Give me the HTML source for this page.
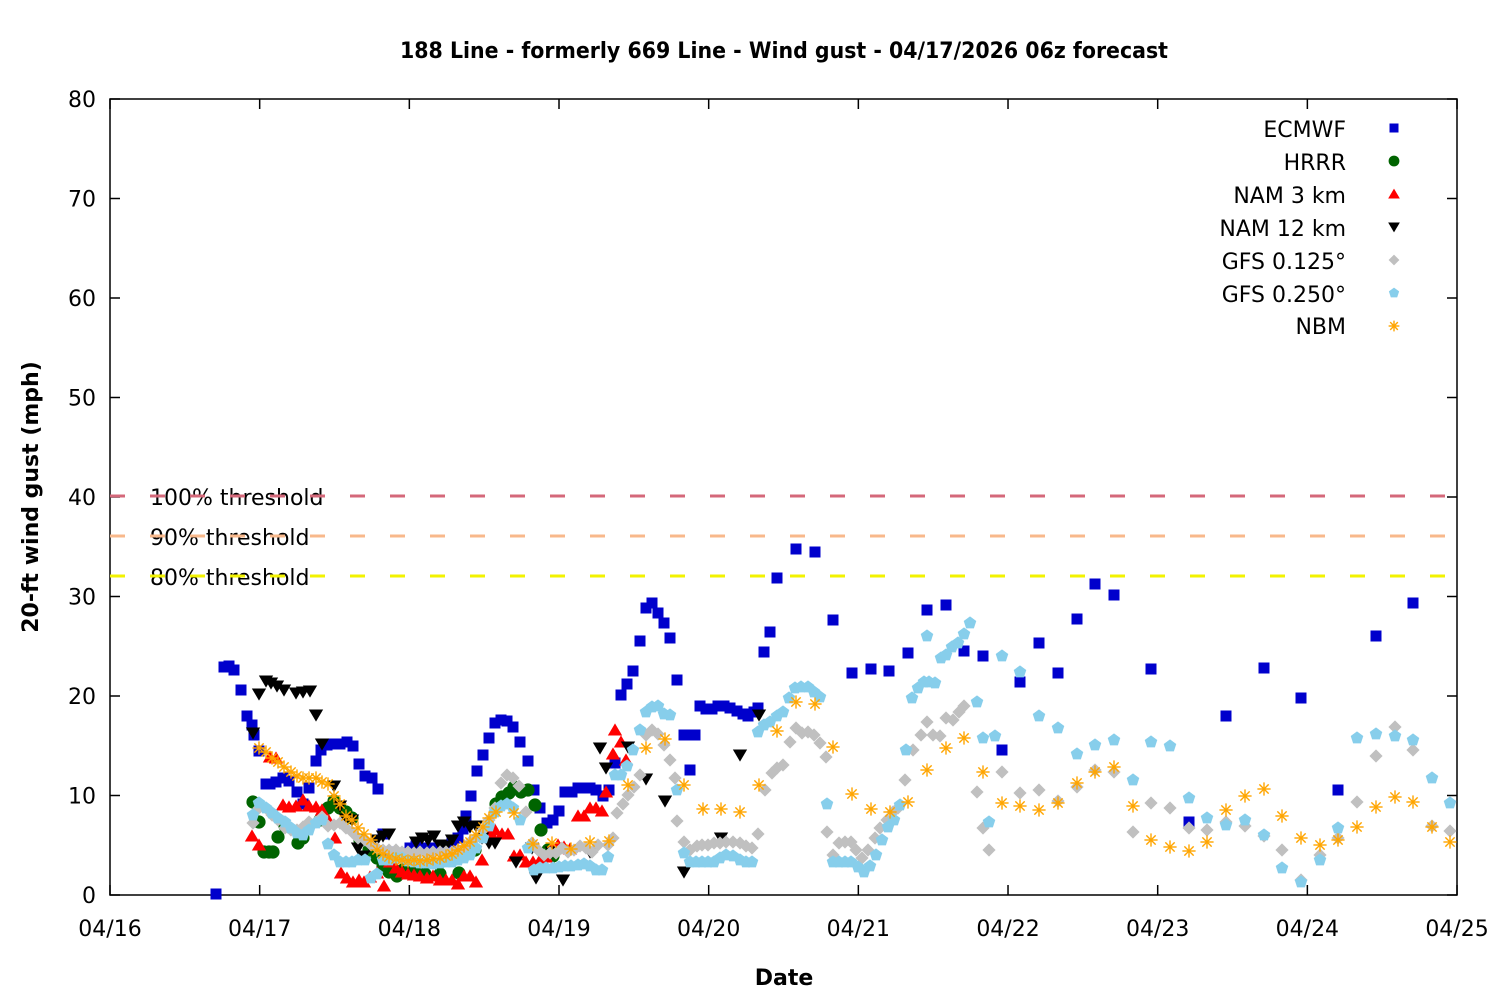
<!DOCTYPE html>
<html><head><meta charset="utf-8"><style>
body{margin:0;background:#fff}
svg text{font-family:"DejaVu Sans","Liberation Sans",sans-serif;fill:#000}
</style></head><body>
<svg id="s" width="1500" height="1000" xmlns="http://www.w3.org/2000/svg">
<rect width="1500" height="1000" fill="#fff"/>
<text x="784" y="58" text-anchor="middle" font-size="22" font-weight="bold" textLength="768" lengthAdjust="spacingAndGlyphs">188 Line - formerly 669 Line - Wind gust - 04/17/2026 06z forecast</text>
<text x="784" y="985" text-anchor="middle" font-size="22" font-weight="bold">Date</text>
<text transform="translate(38,497) rotate(-90)" text-anchor="middle" font-size="22" font-weight="bold">20-ft wind gust (mph)</text>
<g id="ax"></g>
<g font-size="22">
<text x="150" y="505">100% threshold</text>
<text x="150" y="545">90% threshold</text>
<text x="150" y="585">80% threshold</text>
</g>
<g stroke-width="3" stroke-dasharray="15,25">
<line x1="110" x2="1457" y1="496" y2="496" stroke="#d4687a"/>
<line x1="110" x2="1457" y1="536" y2="536" stroke="#f8b88b"/>
<line x1="110" x2="1457" y1="576" y2="576" stroke="#f2f200"/>
</g>
<g font-size="22" text-anchor="end">
<text x="1346" y="137">ECMWF</text>
<text x="1346" y="170">HRRR</text>
<text x="1346" y="203">NAM 3 km</text>
<text x="1346" y="236">NAM 12 km</text>
<text x="1346" y="269">GFS 0.125°</text>
<text x="1346" y="302">GFS 0.250°</text>
<text x="1346" y="334">NBM</text>
</g>
<g id="pts"></g>
</svg>
<script>
const NS="http://www.w3.org/2000/svg";
const ax=document.getElementById('ax'),pts=document.getElementById('pts');
function el(p,t,a,txt){const e=document.createElementNS(NS,t);for(const k in a)e.setAttribute(k,a[k]);if(txt!==undefined)e.textContent=txt;p.appendChild(e);return e;}
el(ax,'rect',{x:110,y:99,width:1347,height:796,fill:'none',stroke:'#000','stroke-width':1.5});
for(let i=0;i<=8;i++){const y=895-i*99.5;el(ax,'line',{x1:110,x2:120,y1:y,y2:y,stroke:'#000','stroke-width':1.5});el(ax,'line',{x1:1447,x2:1457,y1:y,y2:y,stroke:'#000','stroke-width':1.5});
el(ax,'text',{x:96,y:y+8,'text-anchor':'end','font-size':22},String(i*10));}
const d=['04/16','04/17','04/18','04/19','04/20','04/21','04/22','04/23','04/24','04/25'];
for(let i=0;i<=9;i++){const x=110+i*149.67;el(ax,'line',{x1:x,x2:x,y1:895,y2:885,stroke:'#000','stroke-width':1.5});el(ax,'line',{x1:x,x2:x,y1:99,y2:109,stroke:'#000','stroke-width':1.5});
el(ax,'text',{x:x,y:936,'text-anchor':'middle','font-size':22},d[i]);}
function P(s){const a=s.split(/[\s;]+/).filter(Boolean).map(Number);const r=[];for(let i=0;i<a.length;i+=2)r.push([a[i],a[i+1]]);return r;}
function mk(g,type,x,y,c,s){s=s||1;
 if(type=='sq')el(g,'rect',{x:x-5*s,y:y-5*s,width:10*s,height:10*s,fill:c});
 else if(type=='ci')el(g,'circle',{cx:x,cy:y,r:6*s,fill:c});
 else if(type=='tu')el(g,'polygon',{points:`${x},${y-6*s} ${x+6.5*s},${y+5*s} ${x-6.5*s},${y+5*s}`,fill:c});
 else if(type=='td')el(g,'polygon',{points:`${x},${y+6*s} ${x+6.5*s},${y-5*s} ${x-6.5*s},${y-5*s}`,fill:c});
 else if(type=='di')el(g,'polygon',{points:`${x},${y-6*s} ${x+6*s},${y} ${x},${y+6*s} ${x-6*s},${y}`,fill:c});
 else if(type=='pe'){let p=[];for(let k=0;k<5;k++){const a=-Math.PI/2+k*2*Math.PI/5;p.push((x+6*s*Math.cos(a))+','+(y+6*s*Math.sin(a)));}el(g,'polygon',{points:p.join(' '),fill:c});}
 else if(type=='as'){const r=6*s;for(let k=0;k<4;k++){const a=k*Math.PI/4;el(g,'line',{x1:x-r*Math.cos(a),y1:y-r*Math.sin(a),x2:x+r*Math.cos(a),y2:y+r*Math.sin(a),stroke:c,'stroke-width':1.4});}}
}
const S={
ec:['sq','#0000cc',P(`216 894 224 667 229 666 234 670 241 690 247 716 252 725 254 735 259 751 266 784 270 784 276 782 283 778 289 781 297 792 303 804 309 788 316 761 321 750 327 745 334 744 340 744 347 742 353 746 359 764 365 776 372 778 378 789 383 834 390 852 410 848 416 846 422 848 428 850 434 848 440 846 447 845 452 842 458 838 463 829 466 816 471 796 477 771 483 755 489 738 495 723 501 720 507 721 513 727 520 742 528 761 534 790 540 808 547 823 553 820 559 811 565 792 572 792 578 788 584 788 590 788 596 790 603 796 609 790 615 763 621 695 627 684 633 671 640 641 646 608 652 603 658 613 664 623 670 638 677 680 684 735 695 735 690 770 700 706 706 709 712 709 718 706 724 706 730 708 737 711 743 714 748 716 754 712 758 708 764 652 770 632 777 578 796 549 815 552 833 620 852 673 871 669 889 671 908 653 927 610 946 605 964 651 983 656 1002 750 1020 682 1039 643 1058 673 1077 619 1095 584 1114 595 1151 669 1189 822 1226 716 1264 668 1301 698 1338 790 1376 636 1413 603`)],
hr:['ci','#006400',P(`253 802 259 822 264 852 269 852 273 852 278 837 285 826 298 843 303 838 308 826 320 820 328 808 334 801 340 808 346 812 352 818 360 840 369 850 377 858 383 866 389 872 397 876 403 870 410 872 416 873 425 874 440 874 459 873 475 850 489 830 496 804 502 797 509 793 514 787 521 792 528 790 535 805 541 830 548 850 553 856`)],
n3:['tu','#ff0000',P(`252 836 259 845 270 757 276 758 283 805 289 807 296 806 303 800 309 806 316 807 322 810 329 821 335 838 341 873 347 878 353 882 359 880 364 882 370 877 377 873 384 886 390 862 396 868 402 872 408 874 414 875 420 876 427 878 433 876 440 880 446 880 452 880 458 884 464 876 470 876 476 882 482 860 490 832 495 830 502 834 508 834 514 856 520 855 526 862 533 862 540 860 546 857 552 848 558 845 564 847 570 849 578 816 584 816 590 808 596 808 602 811 606 792 613 754 615 730 621 742 626 760`)],
n12:['td','#000000',P(`253 733 259 694 266 681 271 683 277 686 284 690 296 693 303 692 310 691 316 715 322 744 334 786 340 806 346 819 352 820 358 848 363 856 370 846 377 840 383 836 389 834 416 842 422 838 428 840 434 836 440 845 446 846 452 840 458 826 464 822 470 827 476 826 482 838 489 843 495 843 516 862 532 848 536 878 552 852 563 880 590 852 600 748 606 768 628 747 646 779 665 801 684 872 721 838 740 755 759 715`)],
g1:['di','#c0c0c0',P(`253 823 259 808 266 808 272 815 278 820 285 828 291 830 297 830 303 827 309 822 316 822 322 817 328 826 334 825 340 823 346 828 352 832 358 838 365 840 371 845 377 848 383 850 389 850 396 850 402 852 408 852 414 853 420 852 427 853 433 852 440 852 446 852 452 852 458 850 464 848 470 842 476 838 483 830 489 820 495 808 501 783 507 775 513 778 519 786 526 812 532 843 538 850 544 855 550 853 556 853 562 848 568 852 574 850 580 846 586 848 592 852 598 845 608 845 613 838 617 813 623 804 628 795 634 787 640 775 646 735 652 730 658 734 664 745 670 760 675 778 677 821 684 842 690 850 697 846 702 845 708 845 714 843 720 843 726 842 733 842 740 843 746 846 752 848 758 834 765 790 772 773 777 768 783 765 790 742 796 728 802 733 808 732 814 735 820 743 826 757 827 832 833 855 839 843 845 842 851 842 856 850 862 858 868 850 875 838 880 828 887 820 893 812 898 808 905 780 913 750 921 735 927 722 933 735 940 736 946 718 953 720 959 712 964 706 977 792 983 828 989 850 1002 772 1020 793 1039 790 1058 801 1077 787 1095 770 1114 772 1133 832 1151 803 1170 808 1189 828 1207 830 1226 822 1245 826 1264 836 1282 850 1301 880 1320 855 1338 838 1357 802 1376 756 1395 727 1413 750 1432 826 1450 831`)],
g2:['pe','#87ceeb',P(`253 815 259 803 266 808 272 813 278 818 285 822 291 828 297 833 303 835 309 830 316 823 322 820 328 844 334 855 340 862 346 862 352 862 358 860 365 860 371 878 377 874 383 860 389 860 396 858 402 858 408 861 414 862 420 863 427 863 433 864 440 863 446 862 452 862 458 860 464 858 470 855 476 848 483 838 489 826 495 812 501 806 507 804 513 808 520 820 528 848 534 870 540 868 546 868 553 868 559 867 565 866 571 866 578 865 584 864 590 866 596 870 602 870 608 857 615 775 621 775 627 766 633 750 640 730 646 712 652 707 658 706 664 714 670 715 677 790 684 853 690 862 696 862 702 862 708 862 714 862 720 858 726 855 733 856 740 860 746 862 752 862 758 732 764 725 770 722 777 716 783 712 789 698 795 688 801 687 808 687 814 692 820 697 827 804 833 862 839 862 845 862 851 862 858 867 864 872 870 866 876 855 882 840 888 827 894 820 900 805 906 750 912 698 918 688 924 682 929 682 935 683 927 636 941 658 946 655 952 647 958 643 964 634 970 623 977 702 983 738 989 822 995 736 1002 656 1020 672 1039 716 1058 728 1077 754 1095 745 1114 740 1133 780 1151 742 1170 746 1189 798 1207 818 1226 825 1245 820 1264 835 1282 868 1301 882 1320 860 1338 828 1357 738 1376 734 1395 736 1413 740 1432 778 1450 803`)],
nb:['as','#ffa500',P(`259 748 266 752 272 758 278 762 284 767 291 772 297 776 303 778 309 778 316 778 322 782 328 784 334 796 340 804 346 816 352 820 358 828 364 834 371 840 377 850 383 854 389 857 396 859 402 860 408 861 414 860 420 861 427 860 433 859 440 858 446 856 452 854 458 850 464 846 470 842 476 835 483 827 489 818 496 812 514 813 533 844 552 843 571 849 590 842 609 841 628 785 646 748 665 739 684 785 703 809 721 809 740 812 759 785 777 731 796 702 815 704 833 747 852 794 871 809 890 812 908 802 927 770 946 748 964 738 983 772 1002 803 1020 806 1039 810 1058 803 1077 783 1095 772 1114 767 1133 806 1151 840 1170 847 1189 851 1207 842 1226 810 1245 796 1264 789 1282 816 1301 838 1320 845 1338 840 1357 827 1376 807 1395 797 1413 802 1432 827 1450 842`)]
};
for(const k of ['ec','hr','n3','n12','g1','g2','nb']){const [t,c,a]=S[k];for(const p of a)mk(pts,t,p[0],p[1],c,1.1);}
const L=[['sq','#0000cc'],['ci','#006400'],['tu','#ff0000'],['td','#000000'],['di','#c0c0c0'],['pe','#87ceeb'],['as','#ffa500']];
L.forEach((m,i)=>mk(pts,m[0],1394,128+i*33,m[1],0.9));
</script>
</body></html>
